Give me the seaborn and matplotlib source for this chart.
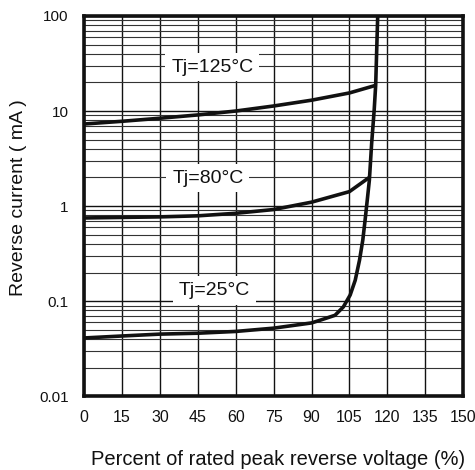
import numpy as np
import pandas as pd
import matplotlib
matplotlib.use('Agg')
import matplotlib.pyplot as plt
import seaborn as sns

# Dados (percentual da tensão reversa, corrente em mA)
x_125 = [0, 15, 30, 45, 60, 75, 90, 105, 115.0]
i_125 = [7.3, 7.8, 8.4, 9.1, 10.0, 11.3, 13.0, 15.5, 18.5]

x_80 = [0, 15, 30, 45, 60, 75, 90, 105, 112.6]
i_80 = [0.75, 0.76, 0.77, 0.79, 0.84, 0.92, 1.1, 1.42, 1.98]

x_25 = [0, 15, 30, 45, 60, 75, 90, 93.4, 99.3, 102.6, 105.3, 107.3, 109.0, 110.3,
        111.2, 112.2, 112.9, 113.8, 114.8, 115.4, 115.8, 116.2]
i_25 = [0.041, 0.043, 0.045, 0.046, 0.048, 0.052, 0.059, 0.063, 0.071, 0.087, 0.116, 0.166,
        0.27, 0.44, 0.71, 1.25, 1.88, 4.57, 10.2, 18.8, 43.9, 100]

x_ticks = [0, 15, 30, 45, 60, 75, 90, 105, 120, 135, 150]
y_ticks = [0.01, 0.1, 1, 10, 100]
y_tick_labels = ['0.01', '0.1', '1', '10', '100']

rotulos = ['Tj=125°C', 'Tj=80°C', 'Tj=25°C']
rotulo_x = [50.7, 49.0, 51.6]
rotulo_y = [29, 1.97, 0.13]

sns.set_style("white")
plt.rcParams['font.family'] = ['Liberation Sans', 'DejaVu Sans']

fig = plt.figure(figsize=(4.75, 4.70), dpi=100)
ax = fig.add_axes([0.177, 0.157, 0.798, 0.809])

ax.set_yscale('log')
ax.set_xlim(0, 150)
ax.set_ylim(0.01, 100)

# Grade
ax.set_xticks(x_ticks)
ax.set_yticks(y_ticks)
ax.yaxis.set_minor_locator(matplotlib.ticker.LogLocator(base=10, subs=np.arange(2, 10)))
ax.yaxis.set_minor_formatter(matplotlib.ticker.NullFormatter())
ax.grid(True, which='major', axis='both', color='#111111', linewidth=1.0)
ax.grid(True, which='minor', axis='y', color='#333333', linewidth=0.8)
ax.set_axisbelow(True)

# Curvas
for xs, ys in [(x_125, i_125), (x_80, i_80), (x_25, i_25)]:
    df = pd.DataFrame({'x': xs, 'y': ys})
    sns.lineplot(data=df, x='x', y='y', ax=ax, color='#111111', linewidth=2.6,
                 sort=False, estimator=None, zorder=5)

# Rótulos com caixa branca
for txt, tx, ty in zip(rotulos, rotulo_x, rotulo_y):
    ax.text(tx, ty, txt, ha='center', va='center', fontsize=14, color='#111111', zorder=6,
            bbox=dict(boxstyle='square,pad=0.3', fc='white', ec='none'))

ax.set_xticklabels([str(v) for v in x_ticks], family=['Liberation Sans Narrow', 'Liberation Sans'],
                   fontsize=11.5)
ax.set_yticklabels(y_tick_labels, fontsize=11)
ax.tick_params(axis='x', which='both', length=0, pad=10, colors='#111111')
ax.tick_params(axis='y', which='both', length=0, pad=11, colors='#111111')

for s in ax.spines.values():
    s.set_linewidth(2.6)
    s.set_color('#111111')
    s.set_zorder(7)

ax.set_xlabel('Percent of rated peak reverse voltage (%)', fontsize=14.5, color='#111111')
ax.set_ylabel('Reverse current ( mA )', fontsize=14, color='#111111')
ax.xaxis.set_label_coords(0.512, -0.142)
ax.yaxis.set_label_coords(-0.15, 0.521)

fig.savefig('out.png', dpi=100)
